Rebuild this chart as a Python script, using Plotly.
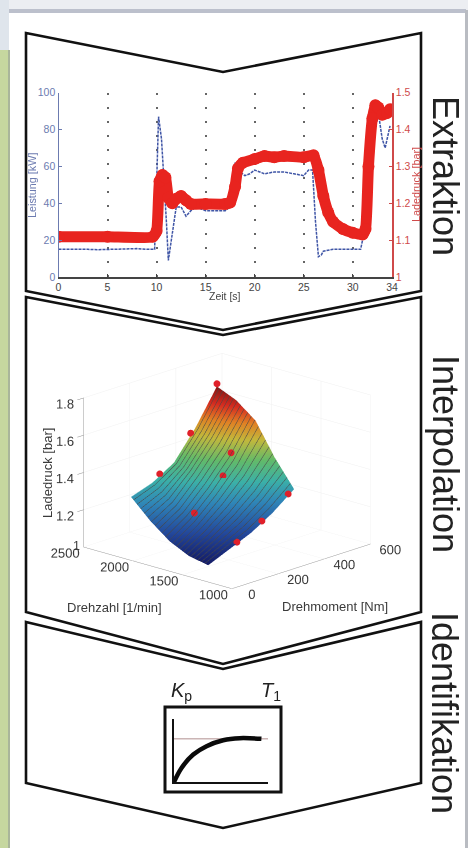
import plotly.graph_objects as go

W, H = 468, 848

# --- Panel 1: Extraktion
leistung_t = [0, 1, 2, 3, 4, 5, 6, 7, 8, 9, 9.8, 10, 10.2, 10.5, 10.8, 11, 11.2, 11.5, 12, 12.5, 13, 13.5, 14, 15, 16, 17, 17.5, 17.8, 18, 18.5, 19, 19.5, 20, 21, 22, 23, 24, 25, 25.5, 25.9, 26.2, 26.5, 26.8, 27, 28, 29, 30, 30.8, 31, 31.5, 31.8, 32, 32.5, 33, 33.3, 33.8]
leistung_kw = [15, 15, 15.3, 15, 14.8, 15, 15, 15.2, 15.4, 15, 15, 50, 87, 75, 50, 30, 9, 20, 38, 38, 33, 36, 38, 36, 36, 36, 38, 58, 62, 57, 55, 56, 58, 56, 57, 57, 56, 55, 58, 58, 30, 11, 12, 14, 15, 15, 15, 15, 20, 60, 92, 95, 93, 75, 70, 82]
druck_t = [0, 5, 9.6, 10, 10.3, 10.6, 10.9, 11.2, 11.6, 12, 12.5, 13, 13.5, 15, 17, 17.5, 18, 18.3, 18.8, 20, 21, 22, 23, 25, 26, 26.5, 27, 27.5, 28, 29, 30, 31, 31.3, 31.6, 32, 32.3, 32.6, 33, 33.5, 33.8]
druck_bar = [1.109, 1.109, 1.109, 1.125, 1.26, 1.277, 1.27, 1.215, 1.2, 1.212, 1.22, 1.208, 1.198, 1.198, 1.198, 1.202, 1.245, 1.295, 1.31, 1.32, 1.328, 1.325, 1.328, 1.325, 1.33, 1.29, 1.22, 1.175, 1.15, 1.13, 1.12, 1.115, 1.13, 1.3, 1.43, 1.466, 1.46, 1.44, 1.445, 1.455]
x_ticks = [0, 5, 10, 15, 20, 25, 30, 34]
kw_ticks = [0, 20, 40, 60, 80, 100]
bar_ticks = [1, 1.1, 1.2, 1.3, 1.4, 1.5]
bar_labels = ["1", "1.1", "1.2", "1.3", "1.4", "1.5"]

# --- Panel 2: Interpolation
drehzahl = [1240, 1435, 1630, 1825, 2020]
drehmoment = [0, 93, 186, 279, 372]
ladedruck_surface = [
    [1.09, 1.14, 1.19, 1.26, 1.35],
    [1.11, 1.18, 1.26, 1.36, 1.49],
    [1.16, 1.24, 1.35, 1.48, 1.66],
    [1.24, 1.31, 1.43, 1.57, 1.74],
    [1.34, 1.38, 1.45, 1.60, 1.785],
]
punkte_n = [2020, 2020, 2020, 1630, 1630, 1630, 1240, 1240, 1240]
punkte_t = [372, 258, 124, 266, 231, 107, 346, 232, 124]
punkte_z = [1.80, 1.58, 1.415, 1.53, 1.42, 1.27, 1.335, 1.235, 1.165]

# --- Panel 3: Identifikation
sprung_t = [0, 0.08, 0.205, 0.346, 0.523, 0.7, 0.93]
sprung_y = [0, 0.326, 0.636, 0.83, 0.969, 1.016, 1.0]
referenz_t = [0, 1]
referenz_y = [1, 1]

BLUE = "#3f55a6"
AXBLUE = "#6c7bb0"
RED = "#e8241f"
AXRED = "#cf4a4a"
TXT = "#3a3a3a"
FONT = "Liberation Sans"
SURFACE_SCALE = [[0, "#141c66"], [0.14, "#23489c"], [0.3, "#2f86b8"], [0.42, "#3bb0a8"], [0.55, "#62ba6a"],
                 [0.68, "#c2b83c"], [0.78, "#e08224"], [0.88, "#d62c20"], [1, "#701010"]]


def px(x):
    return x / W


def py(y):
    return 1 - y / H


def path(points, close=True):
    d = "M " + " L ".join(f"{px(x):.5f} {py(y):.5f}" for x, y in points)
    return d + (" Z" if close else "")


def rect(x0, y0, x1, y1, fill):
    return dict(type="rect", xref="paper", yref="paper", x0=px(x0), x1=px(x1), y0=py(y0), y1=py(y1),
                fillcolor=fill, line=dict(width=0), layer="below")


def frame(points):
    return dict(type="path", xref="paper", yref="paper", path=path(points),
                line=dict(color="#111111", width=2.6), layer="below")


shapes = [
    rect(0, 0, 468, 848, "#ffffff"),
    rect(0, 0, 468, 10, "#eceef2"),
    rect(0, 0, 9, 50, "#dfe5ec"),
    rect(0, 50, 8, 848, "#c6d79f"),
    rect(8, 50, 10, 848, "#a9b59a"),
    rect(9, 9, 466, 13, "#bcc0cc"),
    rect(465, 10, 468, 848, "#b9bcc2"),
    frame([(26, 33), (223, 72), (421, 33), (421, 291), (223, 330), (26, 291)]),
    frame([(26, 297), (223, 335), (421, 297), (421, 612), (223, 664), (26, 612)]),
    frame([(26, 622), (223, 669), (421, 622), (421, 783), (223, 828), (26, 783)]),
    dict(type="rect", xref="paper", yref="paper", x0=px(165), x1=px(281), y0=py(707), y1=py(792),
         line=dict(color="#111111", width=3), fillcolor="rgba(0,0,0,0)", layer="below"),
]

fig = go.Figure()

# top chart
fig.add_trace(go.Scatter(x=leistung_t, y=leistung_kw, mode="lines", xaxis="x", yaxis="y",
                         line=dict(color=BLUE, width=1.5, dash="3px,1px"), name="Leistung"))
fig.add_trace(go.Scatter(x=druck_t, y=druck_bar, mode="lines+markers", xaxis="x", yaxis="y2",
                         line=dict(color=RED, width=11, shape="spline", smoothing=0.5),
                         marker=dict(color=RED, size=12), name="Ladedruck"))

# surface
fig.add_trace(go.Surface(x=drehzahl, y=drehmoment, z=[list(r) for r in zip(*ladedruck_surface)],
                         colorscale=SURFACE_SCALE, cmin=1.09, cmax=1.8, showscale=False,
                         lighting=dict(ambient=1, diffuse=0, specular=0, roughness=1, fresnel=0),
                         contours=dict(x=dict(show=True, start=1240, end=2020, size=36,
                                              color="rgba(20,20,20,0.8)", width=1)),
                         scene="scene"))
fig.add_trace(go.Scatter3d(x=punkte_n, y=punkte_t, z=punkte_z, mode="markers",
                           marker=dict(color="#e0202a", size=4), scene="scene"))

# step response
fig.add_trace(go.Scatter(x=referenz_t, y=referenz_y, mode="lines", xaxis="x3", yaxis="y3",
                         line=dict(color="#b08f8f", width=1)))
fig.add_trace(go.Scatter(x=sprung_t, y=sprung_y, mode="lines", xaxis="x3", yaxis="y3",
                         line=dict(color="#0a0a0a", width=4.5, shape="spline")))


def scene_axis(rng, ticks, labels=None, ticklen=3, tickcolor="#888888"):
    a = dict(range=rng, tickvals=ticks, ticks="outside", ticklen=ticklen, tickcolor=tickcolor, tickangle=0,
             tickfont=dict(family=FONT, size=12.5, color=TXT),
             showgrid=True, gridcolor="#f0f0f0", gridwidth=1,
             showline=True, linecolor="#999999", linewidth=1, showbackground=False,
             zeroline=False, showspikes=False, title=dict(text=""))
    if labels:
        a["ticktext"] = labels
    return a


fig.update_layout(
    width=W, height=H, margin=dict(l=0, r=0, t=0, b=0, autoexpand=False), autosize=False,
    paper_bgcolor="white", plot_bgcolor="rgba(0,0,0,0)", showlegend=False,
    shapes=shapes,
    font=dict(family=FONT, color=TXT),
    xaxis=dict(domain=[px(58.5), px(392)], range=[0, 34], tickvals=x_ticks, anchor="y",
               showgrid=True, griddash="2px,12px", gridcolor="#666666", gridwidth=2,
               showline=True, linecolor="#444444", linewidth=1.5, ticks="inside", ticklen=3,
               tickcolor="#444444", tickfont=dict(size=10.5, color="#444444"), zeroline=False),
    yaxis=dict(domain=[py(277), py(92.7)], range=[0, 100], tickvals=kw_ticks, anchor="x",
               showgrid=False, zeroline=False, showline=True, linecolor=AXBLUE, linewidth=1.2,
               ticks="inside", ticklen=3, tickcolor=AXBLUE, tickfont=dict(size=10.5, color=AXBLUE)),
    yaxis2=dict(domain=[py(277), py(92.7)], range=[1, 1.5], tickvals=bar_ticks, ticktext=bar_labels,
                overlaying="y", side="right", anchor="x", showgrid=False, zeroline=False,
                showline=True, linecolor=AXRED, linewidth=1.5, ticks="inside", ticklen=3,
                tickcolor=AXRED, tickfont=dict(size=10.5, color=AXRED)),
    xaxis3=dict(domain=[px(174), px(268)], range=[0, 1], anchor="y3", showticklabels=False, ticks="",
                showgrid=False, zeroline=False, showline=True, linecolor="#111111", linewidth=2),
    yaxis3=dict(domain=[py(782), py(719)], range=[0, 1.46], anchor="x3", showticklabels=False, ticks="",
                showgrid=False, zeroline=False, showline=True, linecolor="#111111", linewidth=2),
    scene=dict(
        domain=dict(x=[px(1), px(453)], y=[py(674), py(268)]),
        bgcolor="rgba(0,0,0,0)",
        xaxis=scene_axis([2500, 1000], [1000, 1500, 2000, 2500], ticklen=9, tickcolor="rgba(0,0,0,0)"),
        yaxis=scene_axis([0, 600], [0, 200, 400, 600], ticklen=9, tickcolor="rgba(0,0,0,0)"),
        zaxis=scene_axis([1, 1.8], [1.2, 1.4, 1.6, 1.8], ["1.2", "1.4", "1.6", "1.8"]),
        aspectmode="manual", aspectratio=dict(x=1, y=1, z=0.77),
        camera=dict(projection=dict(type="orthographic"), up=dict(x=0, y=0, z=1),
                    center=dict(x=0, y=0, z=0),
                    eye=dict(x=0.682 * 1.77, y=-0.731 * 1.77, z=0.3 * 1.86)),
    ),
)


def note(x, y, text, size, color=TXT, angle=0):
    fig.add_annotation(xref="paper", yref="paper", x=px(x), y=py(y), text=text, showarrow=False,
                       textangle=angle, font=dict(size=size, color=color, family=FONT),
                       xanchor="center", yanchor="middle")


note(225, 296, "Zeit [s]", 10.5, "#444444")
note(32, 186, "Leistung [kW]", 10.8, AXBLUE, -90)
note(416, 185, "Ladedruck [bar]", 10.8, AXRED, -90)
note(48, 473, "Ladedruck [bar]", 13, TXT, -90)
note(114, 607, "Drehzahl [1/min]", 13, TXT)
note(335, 606, "Drehmoment [Nm]", 13, TXT)
note(76, 546, "1", 12.5, TXT)
note(445, 176, "Extraktion", 36, "#222222", 90)
note(445, 454, "Interpolation", 36, "#222222", 90)
note(445, 713, "Identifikation", 36, "#222222", 90)
note(181, 691, "<i>K</i><sub>p</sub>", 20, "#222222")
note(271, 691, "<i>T</i><sub>1</sub>", 20, "#222222")

fig.write_html("out.html", post_script="document.body.style.margin='0';", config=dict(displayModeBar=False))
